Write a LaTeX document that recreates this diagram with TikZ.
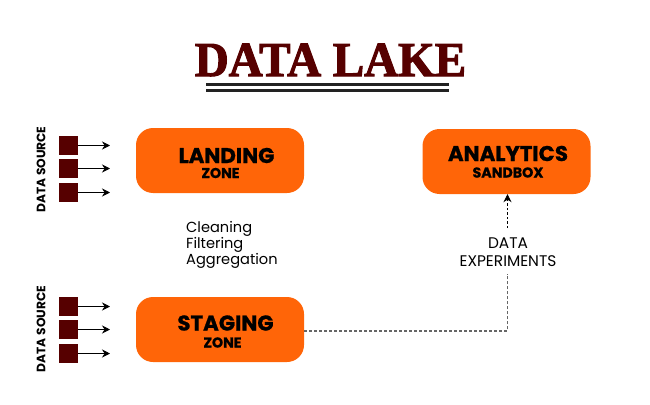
\documentclass[tikz,border=0pt]{standalone}
\usepackage{fontspec}
\usetikzlibrary{arrows.meta}
\setmainfont{Poppins}
\newfontfamily\titlefont[FakeBold=2.2]{Liberation Serif Bold}
\newfontfamily\heavyfont[FakeBold=1]{Poppins Bold}
\definecolor{maroonc}{HTML}{560000}
\definecolor{orangec}{HTML}{FF6508}
\definecolor{rulec}{HTML}{222222}
\tikzset{
  zonebox/.style={fill=orangec,draw=none,rounded corners=17pt,minimum width=168pt,minimum height=65pt,inner sep=0pt},
  srcbox/.style={fill=maroonc,draw=none,minimum size=19pt,inner sep=0pt},
  feed/.style={draw=black,line width=0.8pt,-{Stealth[length=8pt,width=8pt]}},
  srclabel/.style={rotate=90,font=\fontsize{12.2}{13}\selectfont\bfseries,inner sep=0pt},
  maintext/.style={font=\fontsize{21.3}{22}\heavyfont,inner sep=0pt},
  subtext/.style={font=\fontsize{14.2}{14}\heavyfont,inner sep=0pt},
  plainlabel/.style={font=\fontsize{14.6}{15}\selectfont,inner sep=0pt},
  rulebar/.style={draw=rulec,line width=3pt},
  dotted link/.style={draw=black!60,line width=1.3pt,dash pattern=on 3pt off 2pt},
}
\begin{document}
\begin{tikzpicture}[x=1pt,y=-1pt]
\useasboundingbox (0,0) rectangle (650,404);
\node[text=maroonc,inner sep=0pt,xscale=0.96,font=\fontsize{49}{50}\titlefont] (title) at (330.5,60) {DATA LAKE};
\coordinate (r1a) at (206,84.5); \coordinate (r1b) at (449,84.5);
\coordinate (r2a) at (206,90.5); \coordinate (r2b) at (449,90.5);
\draw[rulebar] (r1a) -- (r1b);
\draw[rulebar] (r2a) -- (r2b);

\node[zonebox] (landing) at (220,160.5) {};
\node[zonebox] (staging) at (220,329.5) {};
\node[zonebox] (sandbox) at (506.5,161.5) {};

\node[maintext] (landt) at (226.5,155.5) {LANDING};
\node[subtext] (landz) at (220.5,173) {ZONE};
\node[maintext] (stagt) at (225.5,323) {STAGING};
\node[subtext] (stagz) at (222.5,342.5) {ZONE};
\node[maintext] (anat) at (508,153.5) {ANALYTICS};
\node[subtext] (anaz) at (508,172.5) {SANDBOX};

\node[srclabel] (ds1) at (41,169.5) {DATA SOURCE};
\node[srclabel] (ds2) at (41,329) {DATA SOURCE};

\foreach \n/\y in {a/145.5,b/168.5,c/192.5,d/306.5,e/329.5,f/353.5}{
  \node[srcbox] (s\n) at (68.5,\y) {};
  \coordinate (t\n) at (110,\y);
  \draw[feed] (s\n) -- (t\n);
}

\node[plainlabel,align=left,anchor=west] (steps) at (186,244.5) {Cleaning\\Filtering\\Aggregation};
\node[plainlabel,align=center,font=\fontsize{15.4}{18}\selectfont] (exp) at (508,252) {DATA\\EXPERIMENTS};

\coordinate (up) at (507.5,228);
\draw[draw=black,line width=0.8pt,dash pattern=on 2.5pt off 2pt,-{Stealth[length=8pt,width=8pt]}] (up) -- (sandbox.south -| up);
\coordinate (elbow) at (507.5,274);
\draw[dotted link] ([yshift=-1.5pt]staging.east) -| (elbow);
\end{tikzpicture}
\end{document}
